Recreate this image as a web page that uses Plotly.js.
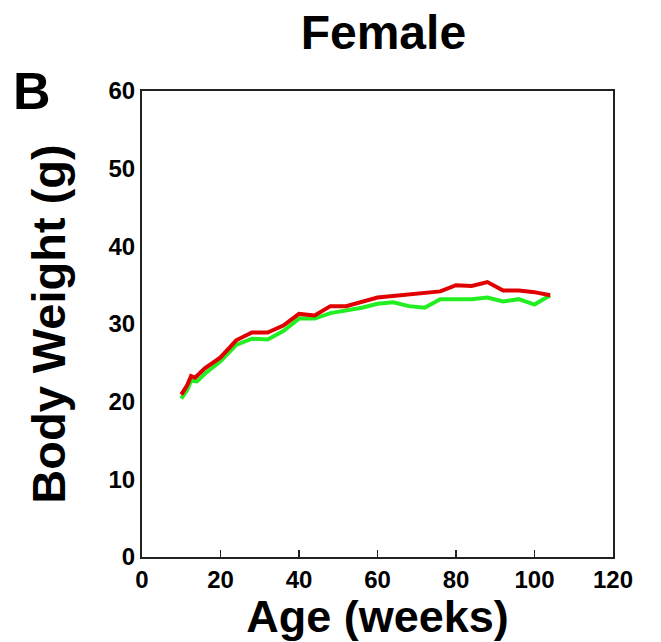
<!DOCTYPE html>
<html>
<head>
<meta charset="utf-8">
<script src="https://cdn.plot.ly/plotly-3.0.1.min.js"></script>
<style>html,body{margin:0;padding:0;background:#fff;}#chart{width:661px;height:642px;}</style>
</head>
<body>
<div id="chart"></div>
<script>
// Ages (weeks) and body weights (g)
const redAges = [10, 11.5, 12.5, 13.5, 16, 20, 24, 28, 32, 36, 40, 44, 48, 52, 60, 64, 68, 72, 76, 80, 84, 88, 92, 96, 100, 104];
const redWeights = [20.9, 22.1, 23.3, 23.1, 24.3, 25.7, 27.9, 28.9, 28.9, 29.8, 31.3, 31.1, 32.3, 32.3, 33.4, 33.6, 33.8, 34.0, 34.2, 35.0, 34.9, 35.4, 34.3, 34.3, 34.1, 33.7];
const greenAges = [10, 11.5, 12.5, 14, 16, 20, 24, 28, 32, 36, 40, 44, 48, 52, 56, 60, 64, 68, 72, 76, 80, 84, 88, 92, 96, 100, 104];
const greenWeights = [20.4, 21.5, 22.7, 22.6, 23.6, 25.2, 27.3, 28.1, 28.0, 29.1, 30.7, 30.7, 31.4, 31.7, 32.1, 32.6, 32.8, 32.3, 32.1, 33.2, 33.2, 33.2, 33.4, 32.9, 33.2, 32.5, 33.7];
const xTicks = [0, 20, 40, 60, 80, 100, 120];
const yTicks = [0, 10, 20, 30, 40, 50, 60];

const FONT = 'Liberation Sans, Arial, Helvetica, sans-serif';

const traces = [
  {x: greenAges, y: greenWeights, type: 'scatter', mode: 'lines',
   line: {color: '#22ee22', width: 4}, showlegend: false, hoverinfo: 'skip'},
  {x: redAges, y: redWeights, type: 'scatter', mode: 'lines',
   line: {color: '#e00000', width: 4}, showlegend: false, hoverinfo: 'skip'}
];

const layout = {
  width: 661, height: 642,
  margin: {l: 142, r: 48, t: 91, b: 85},
  paper_bgcolor: '#fff', plot_bgcolor: '#fff',
  font: {family: FONT, color: '#000'},
  title: {text: 'Female', x: 0.58, xref: 'container', xanchor: 'center',
          y: 0.95, yref: 'container', yanchor: 'middle',
          font: {family: FONT, size: 48, weight: 700, color: '#000'}},
  xaxis: {
    range: [0, 120], tickvals: xTicks, ticktext: xTicks.map(String),
    ticks: 'inside', ticklen: 7, tickwidth: 1.5, tickcolor: '#222',
    showline: true, linecolor: '#222', linewidth: 2, mirror: true,
    showgrid: false, zeroline: false,
    tickfont: {family: FONT, size: 24, weight: 700, color: '#000'},
    title: {text: 'Age (weeks)', standoff: 6, font: {family: FONT, size: 45, weight: 700, color: '#000'}}
  },
  yaxis: {
    range: [0, 60], tickvals: yTicks, ticktext: yTicks.map(String),
    ticks: '', showline: true, linecolor: '#222', linewidth: 2, mirror: true,
    showgrid: false, zeroline: false,
    tickfont: {family: FONT, size: 24, weight: 700, color: '#000'},
    title: {text: 'Body Weight (g)', standoff: 28, font: {family: FONT, size: 47, weight: 700, color: '#000'}}
  },
  annotations: [
    {text: 'B', xref: 'paper', yref: 'paper', x: -0.233, y: 1.0,
     xanchor: 'center', yanchor: 'middle', showarrow: false,
     font: {family: FONT, size: 52, weight: 700, color: '#000'}}
  ]
};

Plotly.newPlot('chart', traces, layout, {staticPlot: true, displayModeBar: false});
</script>
</body>
</html>
